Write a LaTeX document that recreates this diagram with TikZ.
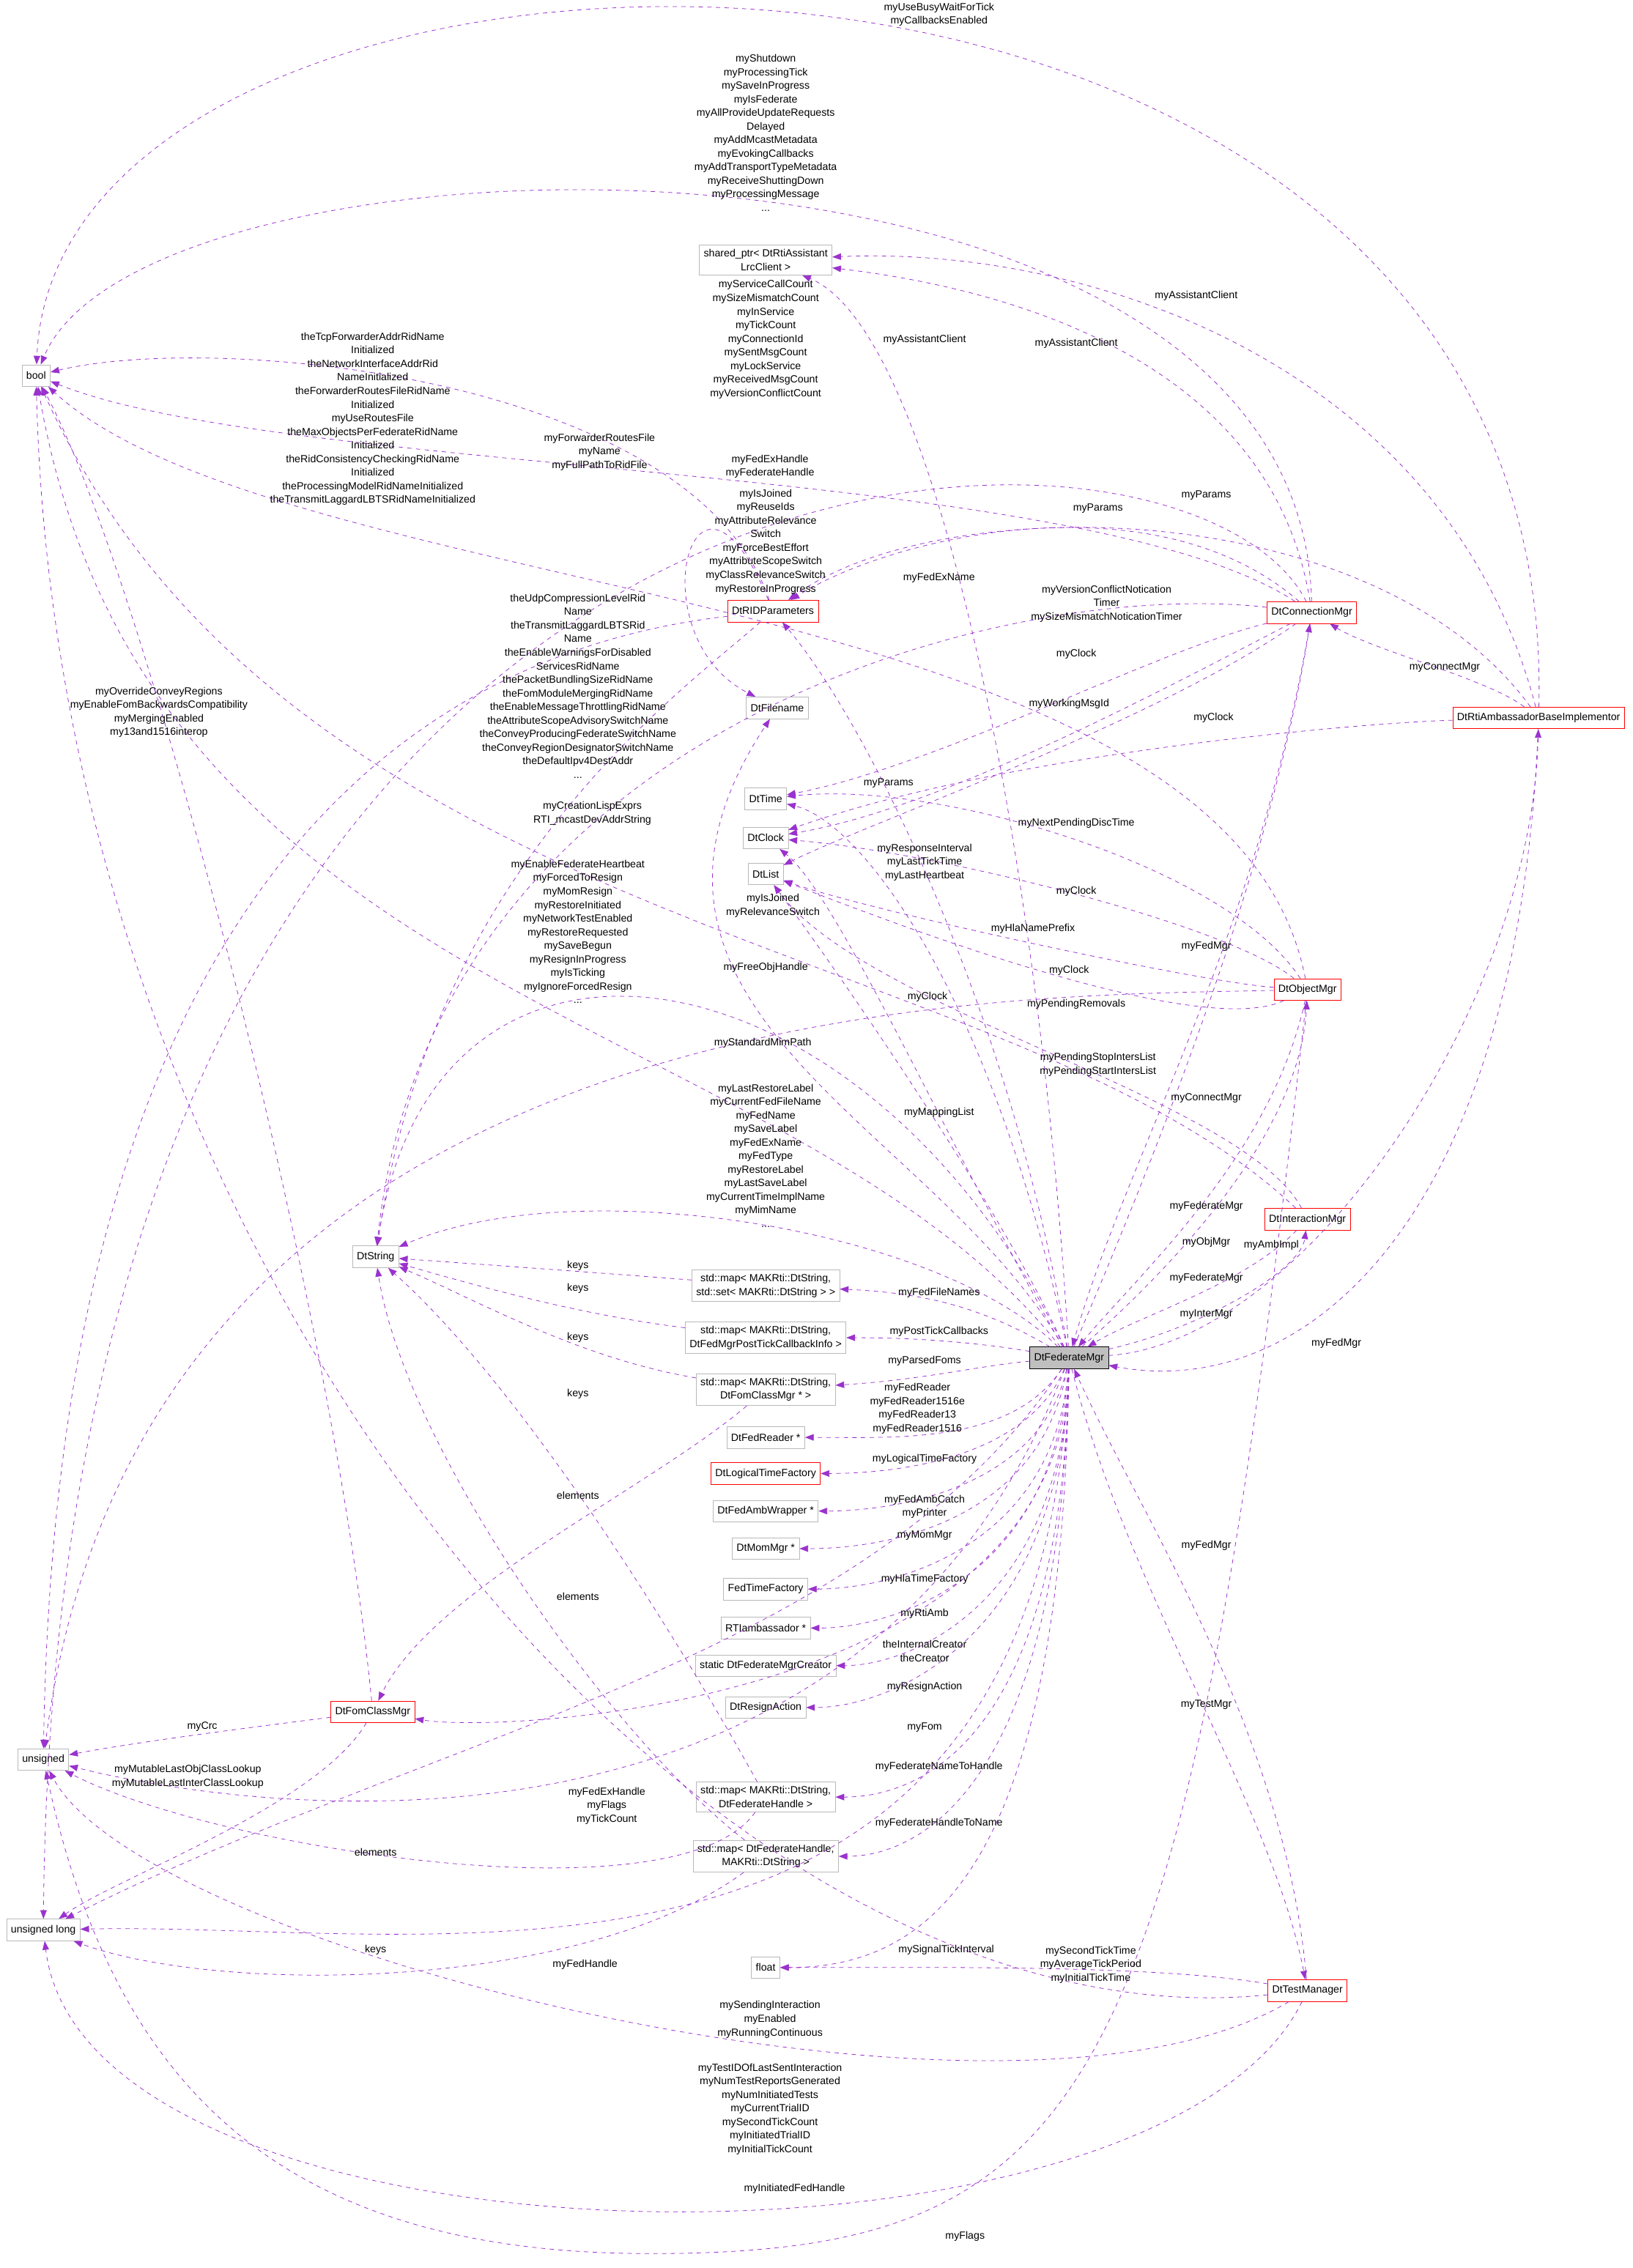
\documentclass[tikz,border=0pt]{standalone}
\usepackage{fontspec}
\setmainfont{Liberation Sans}
\usetikzlibrary{arrows.meta}
\definecolor{edgecol}{HTML}{9A32CD}
\tikzset{
  box/.style={draw=gray!55, fill=white, font=\fontsize{7.2}{9.4}\selectfont, align=center, inner sep=3pt, minimum height=15pt},
  redbox/.style={box, draw=red},
  edge/.style={draw=edgecol, dashed, thin, -{Triangle[length=6pt,width=4.5pt]}},
  lbl/.style={font=\fontsize{7.2}{9.4}\selectfont, align=center, inner sep=0pt}
}
\begin{document}
\begin{tikzpicture}[x=1pt,y=1pt]
\useasboundingbox (0,0) rectangle (1130,-1570);

% classes and types
\node[box] (bool) at (25,-260) {bool};
\node[box] (shptr) at (530,-180) {shared\_ptr< DtRtiAssistant\\LrcClient >};
\node[redbox] (rtiparams) at (535,-423) {DtRIDParameters};
\node[box] (filename) at (538,-490) {DtFilename};
\node[redbox] (connmgr) at (908,-424) {DtConnectionMgr};
\node[redbox] (ambimpl) at (1065,-497) {DtRtiAmbassadorBaseImplementor};
\node[box] (dttime) at (530,-553) {DtTime};
\node[box] (dtclock) at (530,-580) {DtClock};
\node[box] (dtlist) at (530,-605) {DtList};
\node[redbox] (objmgr) at (905,-685) {DtObjectMgr};
\node[redbox] (intermgr) at (905,-844) {DtInteractionMgr};
\node[box] (dtstring) at (260,-870) {DtString};
\node[box] (mapset) at (530,-890) {std::map< MAKRti::DtString,\\std::set< MAKRti::DtString > >};
\node[box] (mapcb) at (530,-926) {std::map< MAKRti::DtString,\\DtFedMgrPostTickCallbackInfo >};
\node[box] (mapfom) at (530,-962) {std::map< MAKRti::DtString,\\DtFomClassMgr * >};
\node[box, fill=gray!50, draw=black] (fedmgr) at (740,-940) {DtFederateMgr};
\node[box] (fedreader) at (530,-995) {DtFedReader *};
\node[redbox] (ltfactory) at (530,-1020) {DtLogicalTimeFactory};
\node[box] (ambwrap) at (530,-1046) {DtFedAmbWrapper *};
\node[box] (mommgr) at (530,-1072) {DtMomMgr *};
\node[box] (fedtime) at (530,-1100) {FedTimeFactory};
\node[box] (rtiamb) at (530,-1127) {RTIambassador *};
\node[box] (creator) at (530,-1153) {static DtFederateMgrCreator};
\node[box] (resign) at (530,-1182) {DtResignAction};
\node[redbox] (fomclass) at (258,-1185) {DtFomClassMgr};
\node[box] (unsig) at (30,-1218) {unsigned};
\node[box] (maphandle) at (530,-1244) {std::map< MAKRti::DtString,\\DtFederateHandle >};
\node[box] (mapname) at (530,-1285) {std::map< DtFederateHandle,\\MAKRti::DtString >};
\node[box] (ulong) at (30,-1336) {unsigned long};
\node[box] (float) at (530,-1362) {float};
\node[redbox] (testmgr) at (905,-1378) {DtTestManager};
\coordinate (flagsbot) at (450,-1560);

% member edges
\draw[edge] (ambimpl) .. controls (1080,120) and (40,100) .. (bool);
\draw[edge] (connmgr) .. controls (900,-60) and (100,-80) .. (bool);
\draw[edge] (connmgr) .. controls (880,-250) and (700,-200) .. (shptr);
\draw[edge] (ambimpl) .. controls (1000,-250) and (750,-170) .. (shptr);
\draw[edge] (fedmgr) .. controls (720,-600) and (650,-230) .. (shptr);
\draw[edge] (rtiparams) .. controls (480,-260) and (150,-230) .. (bool);
\draw[edge] (connmgr) .. controls (820,-250) and (40,-250) .. (ulong);
\draw[edge] (connmgr) .. controls (750,-320) and (200,-330) .. (bool);
\draw[edge] (objmgr) .. controls (850,-400) and (200,-420) .. (bool);
\draw[edge] (connmgr) .. controls (800,-330) and (620,-370) .. (rtiparams);
\draw[edge] (ambimpl) .. controls (950,-340) and (650,-340) .. (rtiparams);
\draw[edge] (fedmgr) .. controls (700,-700) and (600,-500) .. (rtiparams);
\draw[edge] (rtiparams) .. controls (480,-290) and (440,-440) .. (filename);
\draw[edge] (connmgr) .. controls (700,-400) and (300,-500) .. (dtstring);
\draw[edge] (connmgr) .. controls (800,-450) and (650,-530) .. (dttime);
\draw[edge] (connmgr) .. controls (800,-480) and (650,-560) .. (dtclock);
\draw[edge] (ambimpl) .. controls (950,-500) and (700,-520) .. (dtclock);
\draw[edge] (connmgr) .. controls (800,-500) and (600,-570) .. (dtlist);
\draw[edge] (rtiparams) .. controls (470,-480) and (300,-600) .. (dtstring);
\draw[edge] (rtiparams) .. controls (300,-450) and (40,-600) .. (unsig);
\draw[edge] (fedmgr) .. controls (600,-650) and (300,-600) .. (dtstring);
\draw[edge] (fedmgr) .. controls (550,-700) and (100,-700) .. (bool);
\draw[edge] (fedmgr) .. controls (690,-700) and (600,-570) .. (dttime);
\draw[edge] (objmgr) .. controls (850,-600) and (650,-540) .. (dttime);
\draw[edge] (objmgr) .. controls (850,-640) and (650,-590) .. (dtclock);
\draw[edge] (intermgr) .. controls (700,-650) and (200,-650) .. (bool);
\draw[edge] (objmgr) .. controls (830,-680) and (600,-630) .. (dtlist);
\draw[edge] (objmgr) .. controls (700,-690) and (100,-680) .. (unsig);
\draw[edge] (fedmgr) .. controls (660,-800) and (580,-620) .. (dtclock);
\draw[edge] (objmgr) .. controls (830,-720) and (620,-640) .. (dtlist);
\draw[edge] (fedmgr) .. controls (650,-780) and (400,-700) .. (filename);
\draw[edge] (intermgr) .. controls (860,-760) and (600,-700) .. (dtlist);
\draw[edge] (fedmgr) .. controls (700,-850) and (600,-700) .. (dtlist);
\draw[edge] (fedmgr) .. controls (650,-850) and (400,-810) .. (dtstring);
\draw[edge] (fedmgr) .. controls (800,-800) and (880,-600) .. (connmgr);
\draw[edge] (connmgr) .. controls (870,-650) and (780,-800) .. (fedmgr);
\draw[edge] (objmgr) .. controls (880,-800) and (790,-880) .. (fedmgr);
\draw[edge] (fedmgr) .. controls (820,-870) and (900,-780) .. (objmgr);
\draw[edge] (intermgr) .. controls (860,-890) and (790,-910) .. (fedmgr);
\draw[edge] (fedmgr) .. controls (830,-920) and (900,-880) .. (intermgr);
\draw[edge] (fedmgr) .. controls (900,-930) and (1060,-700) .. (ambimpl);
\draw[edge] (ambimpl) .. controls (1050,-850) and (900,-970) .. (fedmgr);
\draw[edge] (ambimpl) .. controls (1030,-470) and (950,-450) .. (connmgr);
\draw[edge] (mapset) .. controls (400,-880) and (330,-875) .. (dtstring);
\draw[edge] (mapcb) .. controls (400,-910) and (330,-890) .. (dtstring);
\draw[edge] (mapfom) .. controls (400,-940) and (330,-900) .. (dtstring);
\draw[edge] (maphandle) .. controls (450,-1100) and (350,-950) .. (dtstring);
\draw[edge] (mapfom) .. controls (450,-1030) and (300,-1100) .. (fomclass);
\draw[edge] (mapname) .. controls (420,-1200) and (280,-1000) .. (dtstring);
\draw[edge] (maphandle) .. controls (470,-1330) and (150,-1280) .. (unsig);
\draw[edge] (mapname) .. controls (400,-1380) and (150,-1380) .. (ulong);
\draw[edge] (fedmgr) .. controls (680,-905) and (640,-895) .. (mapset);
\draw[edge] (fedmgr) .. controls (680,-930) and (640,-926) .. (mapcb);
\draw[edge] (fedmgr) .. controls (680,-945) and (640,-955) .. (mapfom);
\draw[edge] (fedmgr) .. controls (700,-1000) and (620,-995) .. (fedreader);
\draw[edge] (fedmgr) .. controls (710,-1010) and (620,-1020) .. (ltfactory);
\draw[edge] (fedmgr) .. controls (720,-1030) and (620,-1046) .. (ambwrap);
\draw[edge] (fedmgr) .. controls (720,-1050) and (620,-1072) .. (mommgr);
\draw[edge] (fedmgr) .. controls (730,-1070) and (620,-1100) .. (fedtime);
\draw[edge] (fedmgr) .. controls (730,-1090) and (620,-1127) .. (rtiamb);
\draw[edge] (fedmgr) .. controls (735,-1110) and (630,-1153) .. (creator);
\draw[edge] (fedmgr) .. controls (735,-1130) and (620,-1182) .. (resign);
\draw[edge] (fedmgr) .. controls (735,-1180) and (350,-1200) .. (fomclass);
\draw[edge] (fedmgr) .. controls (735,-1200) and (640,-1244) .. (maphandle);
\draw[edge] (fedmgr) .. controls (735,-1230) and (640,-1285) .. (mapname);
\draw[edge] (fomclass) .. controls (180,-1195) and (100,-1205) .. (unsig);
\draw[edge] (fomclass) .. controls (220,-1250) and (80,-1300) .. (ulong);
\draw[edge] (fomclass) .. controls (230,-900) and (100,-400) .. (bool);
\draw[edge] (fedmgr) .. controls (600,-1300) and (200,-1260) .. (unsig);
\draw[edge] (fedmgr) .. controls (600,-1150) and (300,-1200) .. (ulong);
\draw[edge] (fedmgr) .. controls (720,-1420) and (300,-1330) .. (ulong);
\draw[edge] (fedmgr) .. controls (735,-1300) and (640,-1362) .. (float);
\draw[edge] (testmgr) .. controls (800,-1360) and (650,-1362) .. (float);
\draw[edge] (testmgr) .. controls (500,-1420) and (40,-900) .. (bool);
\draw[edge] (testmgr) .. controls (700,-1500) and (100,-1350) .. (unsig);
\draw[edge] (testmgr) .. controls (800,-1590) and (60,-1580) .. (ulong);
\draw[edge] (fedmgr) .. controls (780,-1100) and (880,-1250) .. (testmgr);
\draw[edge] (testmgr) .. controls (890,-1200) and (790,-1050) .. (fedmgr);
\draw[edge] (objmgr) .. controls (820,-1450) and (760,-1560) .. (flagsbot) .. controls (200,-1560) and (80,-1450) .. (unsig);

% member labels
\node[lbl] (l1) at (650,-10) {myUseBusyWaitForTick\\myCallbacksEnabled};
\node[lbl] (l2) at (530,-92) {myShutdown\\myProcessingTick\\mySaveInProgress\\myIsFederate\\myAllProvideUpdateRequests\\Delayed\\myAddMcastMetadata\\myEvokingCallbacks\\myAddTransportTypeMetadata\\myReceiveShuttingDown\\myProcessingMessage\\...};
\node[lbl] (l3) at (745,-238) {myAssistantClient};
\node[lbl] (l4) at (828,-205) {myAssistantClient};
\node[lbl] (l5) at (640,-235) {myAssistantClient};
\node[lbl] (l6) at (258,-290) {theTcpForwarderAddrRidName\\Initialized\\theNetworkInterfaceAddrRid\\NameInitialized\\theForwarderRoutesFileRidName\\Initialized\\myUseRoutesFile\\theMaxObjectsPerFederateRidName\\Initialized\\theRidConsistencyCheckingRidName\\Initialized\\theProcessingModelRidNameInitialized\\theTransmitLaggardLBTSRidNameInitialized};
\node[lbl] (l7) at (530,-235) {myServiceCallCount\\mySizeMismatchCount\\myInService\\myTickCount\\myConnectionId\\mySentMsgCount\\myLockService\\myReceivedMsgCount\\myVersionConflictCount};
\node[lbl] (l8) at (533,-323) {myFedExHandle\\myFederateHandle};
\node[lbl] (l9) at (530,-375) {myIsJoined\\myReuseIds\\myAttributeRelevance\\Switch\\myForceBestEffort\\myAttributeScopeSwitch\\myClassRelevanceSwitch\\myRestoreInProgress};
\node[lbl] (l10) at (760,-352) {myParams};
\node[lbl] (l11) at (835,-343) {myParams};
\node[lbl] (l12) at (615,-542) {myParams};
\node[lbl] (l13) at (415,-313) {myForwarderRoutesFile\\myName\\myFullPathToRidFile};
\node[lbl] (l14) at (650,-400) {myFedExName};
\node[lbl] (l15) at (766,-418) {myVersionConflictNotication\\Timer\\mySizeMismatchNoticationTimer};
\node[lbl] (l16) at (745,-453) {myClock};
\node[lbl] (l17) at (840,-497) {myClock};
\node[lbl] (l18) at (740,-487) {myWorkingMsgId};
\node[lbl] (l19) at (400,-475) {theUdpCompressionLevelRid\\Name\\theTransmitLaggardLBTSRid\\Name\\theEnableWarningsForDisabled\\ServicesRidName\\thePacketBundlingSizeRidName\\theFomModuleMergingRidName\\theEnableMessageThrottlingRidName\\theAttributeScopeAdvisorySwitchName\\theConveyProducingFederateSwitchName\\theConveyRegionDesignatorSwitchName\\theDefaultIpv4DestAddr\\...};
\node[lbl] (l20) at (110,-493) {myOverrideConveyRegions\\myEnableFomBackwardsCompatibility\\myMergingEnabled\\my13and1516interop};
\node[lbl] (l21) at (410,-563) {myCreationLispExprs\\RTI\_mcastDevAddrString};
\node[lbl] (l22) at (400,-645) {myEnableFederateHeartbeat\\myForcedToResign\\myMomResign\\myRestoreInitiated\\myNetworkTestEnabled\\myRestoreRequested\\mySaveBegun\\myResignInProgress\\myIsTicking\\myIgnoreForcedResign\\...};
\node[lbl] (l23) at (640,-597) {myResponseInterval\\myLastTickTime\\myLastHeartbeat};
\node[lbl] (l24) at (745,-570) {myNextPendingDiscTime};
\node[lbl] (l25) at (745,-617) {myClock};
\node[lbl] (l26) at (535,-627) {myIsJoined\\myRelevanceSwitch};
\node[lbl] (l27) at (715,-643) {myHlaNamePrefix};
\node[lbl] (l28) at (530,-670) {myFreeObjHandle};
\node[lbl] (l29) at (642,-690) {myClock};
\node[lbl] (l29b) at (740,-672) {myClock};
\node[lbl] (l30) at (745,-695) {myPendingRemovals};
\node[lbl] (l31) at (528,-722) {myStandardMimPath};
\node[lbl] (l32) at (760,-737) {myPendingStopIntersList\\myPendingStartIntersList};
\node[lbl] (l33) at (650,-770) {myMappingList};
\node[lbl] (l34) at (530,-800) {myLastRestoreLabel\\myCurrentFedFileName\\myFedName\\mySaveLabel\\myFedExName\\myFedType\\myRestoreLabel\\myLastSaveLabel\\myCurrentTimeImplName\\myMimName\\...};
\node[lbl] (l35) at (835,-760) {myConnectMgr};
\node[lbl] (l36) at (835,-655) {myFedMgr};
\node[lbl] (l37) at (835,-835) {myFederateMgr};
\node[lbl] (l38) at (835,-860) {myObjMgr};
\node[lbl] (l39) at (835,-885) {myFederateMgr};
\node[lbl] (l40) at (835,-910) {myInterMgr};
\node[lbl] (l41) at (880,-862) {myAmbImpl};
\node[lbl] (l42) at (925,-930) {myFedMgr};
\node[lbl] (l43) at (1000,-462) {myConnectMgr};
\node[lbl] (k1) at (400,-876) {keys};
\node[lbl] (k2) at (400,-892) {keys};
\node[lbl] (k3) at (400,-926) {keys};
\node[lbl] (k4) at (400,-965) {keys};
\node[lbl] (e1) at (400,-1035) {elements};
\node[lbl] (e2) at (400,-1105) {elements};
\node[lbl] (e3) at (260,-1282) {elements};
\node[lbl] (k5) at (260,-1350) {keys};
\node[lbl] (m1) at (650,-895) {myFedFileNames};
\node[lbl] (m2) at (650,-922) {myPostTickCallbacks};
\node[lbl] (m3) at (640,-942) {myParsedFoms};
\node[lbl] (m4) at (635,-975) {myFedReader\\myFedReader1516e\\myFedReader13\\myFedReader1516};
\node[lbl] (m5) at (640,-1010) {myLogicalTimeFactory};
\node[lbl] (m6) at (640,-1043) {myFedAmbCatch\\myPrinter};
\node[lbl] (m7) at (640,-1063) {myMomMgr};
\node[lbl] (m8) at (640,-1093) {myHlaTimeFactory};
\node[lbl] (m9) at (640,-1117) {myRtiAmb};
\node[lbl] (m10) at (640,-1143) {theInternalCreator\\theCreator};
\node[lbl] (m11) at (640,-1168) {myResignAction};
\node[lbl] (m12) at (640,-1196) {myFom};
\node[lbl] (m13) at (650,-1223) {myFederateNameToHandle};
\node[lbl] (m14) at (650,-1262) {myFederateHandleToName};
\node[lbl] (m15) at (140,-1195) {myCrc};
\node[lbl] (m16) at (130,-1230) {myMutableLastObjClassLookup\\myMutableLastInterClassLookup};
\node[lbl] (m17) at (420,-1250) {myFedExHandle\\myFlags\\myTickCount};
\node[lbl] (m18) at (405,-1360) {myFedHandle};
\node[lbl] (m19) at (655,-1350) {mySignalTickInterval};
\node[lbl] (m20) at (755,-1360) {mySecondTickTime\\myAverageTickPeriod\\myInitialTickTime};
\node[lbl] (m21) at (533,-1398) {mySendingInteraction\\myEnabled\\myRunningContinuous};
\node[lbl] (m22) at (533,-1460) {myTestIDOfLastSentInteraction\\myNumTestReportsGenerated\\myNumInitiatedTests\\myCurrentTrialID\\mySecondTickCount\\myInitiatedTrialID\\myInitialTickCount};
\node[lbl] (m23) at (550,-1515) {myInitiatedFedHandle};
\node[lbl] (m24) at (835,-1180) {myTestMgr};
\node[lbl] (m25) at (835,-1070) {myFedMgr};
\node[lbl] (m26) at (668,-1548) {myFlags};
\end{tikzpicture}
\end{document}
